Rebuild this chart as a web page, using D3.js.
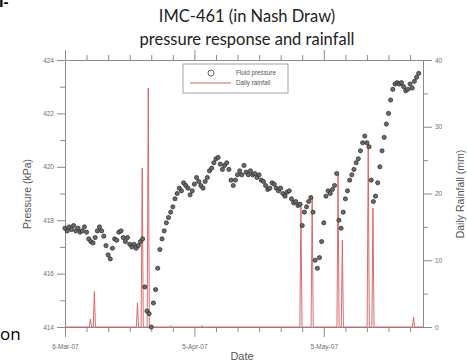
<!DOCTYPE html>
<html>
<head>
<meta charset="utf-8">
<script src="https://cdn.jsdelivr.net/npm/d3@7"></script>
<style>
  body { margin: 0; background: #fff; }
  svg { display: block; }
  .axis path, .axis line { stroke: #8c8c8c; }
  .axis text { fill: #6e6e6e; font-family: "Liberation Sans", Arial, sans-serif; font-size: 6.5px; }
</style>
</head>
<body>
<div id="chart"></div>
<script>
const startDate = Date.UTC(2007, 2, 6)
const endDate = Date.UTC(2007, 4, 28)
const dayMs = 864e5

// fluid pressure (kPa), one reading every 12 h from 6-Mar-07
const pressure = [
  417.7, 417.6, 417.75, 417.65, 417.8, 417.6, 417.7, 417.55, 417.6, 417.75,
  417.55, 417.3, 417.2, 417.15, 417.35, 417.6, 417.75, 417.6, 417.4, 417.05,
  416.7, 416.55, 416.95, 417.3, 417.25, 417.55, 417.6, 417.35, 417.2, 417.35,
  417.1, 417.0, 417.1, 416.95, 417.05, 417.2, 417.3, 415.5, 414.6, 414.5,
  414.0, 414.9, 415.4, 416.2, 416.9, 417.3, 417.6, 417.9, 418.1, 418.3,
  418.5, 418.8, 419.0, 419.2, 419.1, 419.4, 419.3, 419.2, 418.95, 419.1,
  419.35, 419.6, 419.45, 419.3, 419.2, 419.45, 419.6, 419.85, 419.95, 420.15,
  420.3, 420.35, 420.1, 419.9, 420.05, 420.15, 419.9, 419.5, 419.3, 419.5,
  419.7, 419.85, 419.7, 420.05, 419.8, 419.7, 419.85, 419.7, 419.75, 419.6,
  419.7, 419.5, 419.45, 419.3, 419.15, 419.2, 419.4, 419.35, 419.2, 419.1,
  419.2, 419.0, 418.9, 419.05, 419.1, 418.8, 418.65, 418.7, 418.55, 418.6,
  417.8, 418.3, 418.5, 418.7, 418.85, 418.3, 416.5, 416.2, 416.6, 417.2,
  417.9, 418.9, 419.1, 419.0, 419.15, 419.3, 419.75, 418.0, 417.7, 418.3,
  418.8, 419.1, 419.5, 419.7, 419.9, 420.15, 420.3, 420.6, 420.9, 421.15,
  420.9, 420.75, 419.5, 418.7, 418.9, 419.4, 420.0, 420.6, 421.1, 421.6,
  422.0, 422.5, 422.9, 423.1, 423.15, 423.1, 423.15, 423.0, 422.85, 422.9,
  423.1, 422.95, 423.2, 423.35, 423.5
]

// daily rainfall events: days after 6-Mar-07 and amount (mm)
const rainDay = [5.9, 6.8, 16.8, 17.9, 19.3, 24.5, 31.7, 54.7, 57.3, 63.3, 64.3, 70.3, 71.4, 80.8]
const rainMM = [1.2, 5.3, 3.6, 23.8, 35.8, 0.2, 0.2, 18.4, 19.5, 22.8, 13.0, 27.4, 17.8, 1.5]

const pressureMajor = [414, 416, 418, 420, 422, 424]
const pressureMinor = [415, 417, 419, 421, 423]
const rainMajor = [0, 10, 20, 30, 40]
const rainMinor = [5, 15, 25, 35]
const dateTickDays = d3.range(0, 83, 5)
const dateLabelDays = [0, 30, 60]

const width = 467
const height = 363
const margin = {left: 65, right: 44, top: 60, bottom: 36}

const svg = d3.select("#chart").append("svg")
  .attr("width", width)
  .attr("height", height)

const x = d3.scaleUtc()
  .domain([new Date(startDate), new Date(endDate)])
  .range([margin.left, width - margin.right])
const yP = d3.scaleLinear().domain([414, 424]).range([height - margin.bottom, margin.top])
const yR = d3.scaleLinear().domain([0, 40]).range([height - margin.bottom, margin.top])

const dayToDate = d => new Date(startDate + d * dayMs)
const fmt = d3.utcFormat("%-d-%b-%y")
const majorDates = dateLabelDays.map(dayToDate)
const minorDates = dateTickDays.filter(d => !dateLabelDays.includes(d)).map(dayToDate)

const bottom = height - margin.bottom
const right = width - margin.right

// axes: minor ticks first, then major with labels
function addAxis(axisFn, scale, minor, major, transform, fmtFn, minorLen, majorLen) {
  svg.append("g").attr("class", "axis").attr("transform", transform)
    .call(axisFn(scale).tickValues(minor).tickSize(minorLen).tickSizeOuter(0).tickFormat(""))
  const g = svg.append("g").attr("class", "axis").attr("transform", transform)
    .call(axisFn(scale).tickValues(major).tickSize(majorLen).tickSizeOuter(0).tickFormat(fmtFn))
  g.select(".domain").remove()
  return g
}

addAxis(d3.axisLeft, yP, pressureMinor, pressureMajor, `translate(${margin.left},0)`, d3.format("d"), 5, 8)
addAxis(d3.axisRight, yR, rainMinor, rainMajor, `translate(${right},0)`, d3.format("d"), 5, 9)
addAxis(d3.axisBottom, x, minorDates, majorDates, `translate(0,${bottom})`, fmt, 5, 10)
  .selectAll("text").attr("dy", "1.4em")
addAxis(d3.axisTop, x, minorDates, majorDates, `translate(0,${margin.top})`, () => "", 5, 10)

// rainfall line
const rainPts = [[0, 0]]
rainDay.forEach((d, i) => {
  rainPts.push([d - 0.25, 0], [d, rainMM[i]], [d + 0.25, 0])
})
rainPts.push([83, 0])

svg.append("path")
  .datum(rainPts)
  .attr("fill", "none")
  .attr("stroke", "#d65c5c")
  .attr("stroke-width", 0.9)
  .attr("d", d3.line().x(p => x(dayToDate(p[0]))).y(p => yR(p[1])))

// fluid pressure markers
svg.append("g").selectAll("circle")
  .data(pressure)
  .join("circle")
  .attr("cx", (d, i) => x(dayToDate(i * 0.5)))
  .attr("cy", d => yP(d))
  .attr("r", 2.1)
  .attr("fill", "#6a6a6a")
  .attr("stroke", "#222")
  .attr("stroke-width", 0.8)
  .attr("stroke-opacity", 0.85)

// legend
const leg = svg.append("g")
leg.append("rect").attr("x", 183).attr("y", 64).attr("width", 105).attr("height", 29)
  .attr("fill", "#fff").attr("stroke", "#8c8c8c").attr("stroke-width", 0.8)
leg.append("circle").attr("cx", 211).attr("cy", 73).attr("r", 3)
  .attr("fill", "none").attr("stroke", "#555").attr("stroke-width", 0.9)
leg.append("line").attr("x1", 190).attr("x2", 231).attr("y1", 83).attr("y2", 83)
  .attr("stroke", "#d65c5c").attr("stroke-width", 1)
leg.selectAll("text").data(["Fluid pressure", "Daily rainfall"]).join("text")
  .attr("x", 236).attr("y", (d, i) => 73 + i * 10).attr("dy", "0.35em")
  .attr("font-family", "Liberation Sans, Arial, sans-serif").attr("font-size", 6.3)
  .attr("fill", "#555").text(d => d)

// axis titles
const axisFont = "Liberation Sans, Arial, sans-serif"
svg.append("text").attr("x", 242).attr("y", 360).attr("text-anchor", "middle")
  .attr("font-family", axisFont).attr("font-size", 11).attr("fill", "#555").text("Date")
svg.append("text").attr("transform", "translate(31,194) rotate(-90)").attr("text-anchor", "middle")
  .attr("font-family", axisFont).attr("font-size", 10.5).attr("fill", "#555").text("Pressure (kPa)")
svg.append("text").attr("transform", "translate(464,194) rotate(-90)").attr("text-anchor", "middle")
  .attr("font-family", axisFont).attr("font-size", 10.5).attr("fill", "#555").text("Daily Rainfall (mm)")

// title
const title = svg.append("text").attr("text-anchor", "middle")
  .attr("font-family", "Lato, sans-serif").attr("font-size", 16.5).attr("fill", "#222")
title.append("tspan").attr("x", 247).attr("y", 22).text("IMC-461 (in Nash Draw)")
title.append("tspan").attr("x", 247).attr("y", 45).text("pressure response and rainfall")

// slide fragments around the chart
svg.append("text").attr("x", -1).attr("y", 7).attr("font-family", "Open Sans, sans-serif")
  .attr("font-size", 15).attr("font-weight", "bold").attr("fill", "#000").text("l-")
svg.append("text").attr("x", 0).attr("y", 340).attr("font-family", "Open Sans, sans-serif")
  .attr("font-size", 17).attr("fill", "#000").text("on")
</script>
</body>
</html>
